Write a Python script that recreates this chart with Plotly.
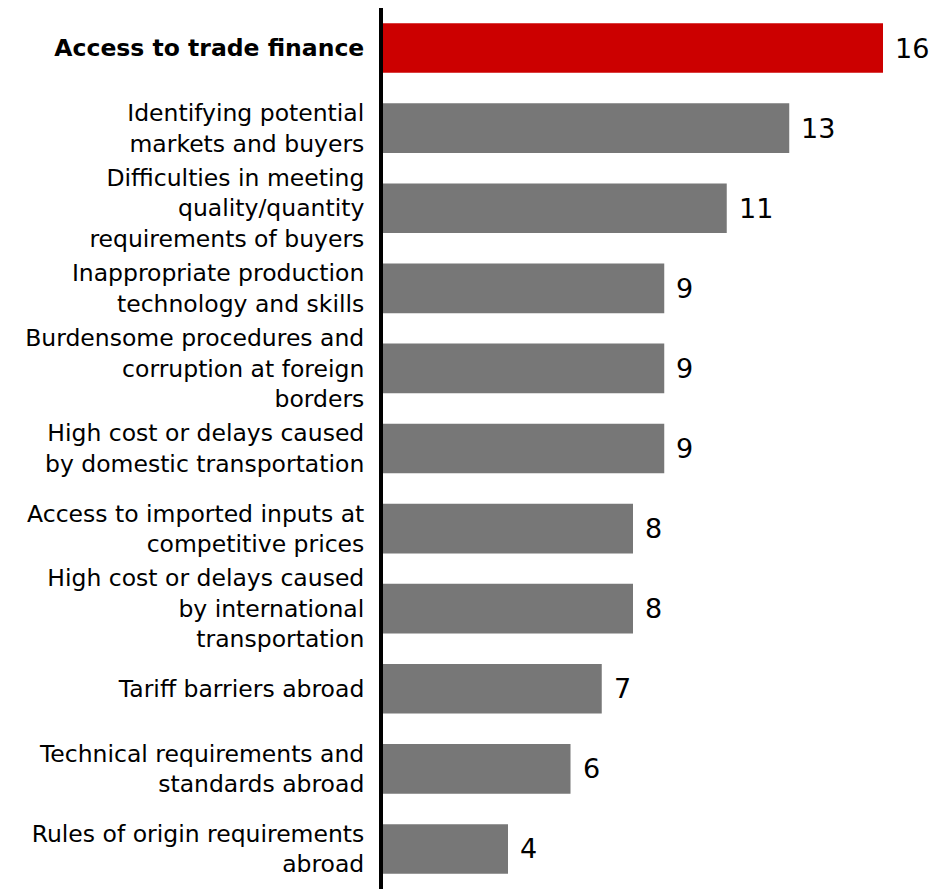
import plotly.graph_objects as go

categories = [
    "<b>Access to trade finance</b>",
    "Identifying potential<br>markets and buyers",
    "Difficulties in meeting<br>quality/quantity<br>requirements of buyers",
    "Inappropriate production<br>technology and skills",
    "Burdensome procedures and<br>corruption at foreign<br>borders",
    "High cost or delays caused<br>by domestic transportation",
    "Access to imported inputs at<br>competitive prices",
    "High cost or delays caused<br>by international<br>transportation",
    "Tariff barriers abroad",
    "Technical requirements and<br>standards abroad",
    "Rules of origin requirements<br>abroad",
]
values = [16, 13, 11, 9, 9, 9, 8, 8, 7, 6, 4]
bar_colors = ["#cc0000"] + ["#777777"] * (len(values) - 1)

FONT = "DejaVu Sans, Verdana, sans-serif"

fig = go.Figure()
fig.add_trace(go.Bar(
    x=values,
    y=categories,
    orientation="h",
    marker=dict(color=bar_colors, line=dict(width=0)),
    hoverinfo="skip",
))

# value labels to the right of each bar
for cat, v in zip(categories, values):
    fig.add_annotation(
        x=v, y=cat, text=str(v), showarrow=False,
        xanchor="left", yanchor="middle", xshift=10,
        font=dict(family=FONT, size=27, color="#000000"),
    )

fig.update_layout(
    width=948, height=889,
    margin=dict(l=383, r=10, t=8, b=0),
    paper_bgcolor="white", plot_bgcolor="white",
    bargap=0.38,
    showlegend=False,
    font=dict(family=FONT, size=23.5, color="#000000"),
    xaxis=dict(range=[0, 17.76], visible=False, showgrid=False, zeroline=False),
    yaxis=dict(
        autorange="reversed",
        showline=True, linecolor="#000000", linewidth=4,
        showgrid=False, zeroline=False, ticks="",
        ticklabelstandoff=10,
        tickfont=dict(family=FONT, size=23.5, color="#000000"),
    ),
)

fig.write_html("out.html")
